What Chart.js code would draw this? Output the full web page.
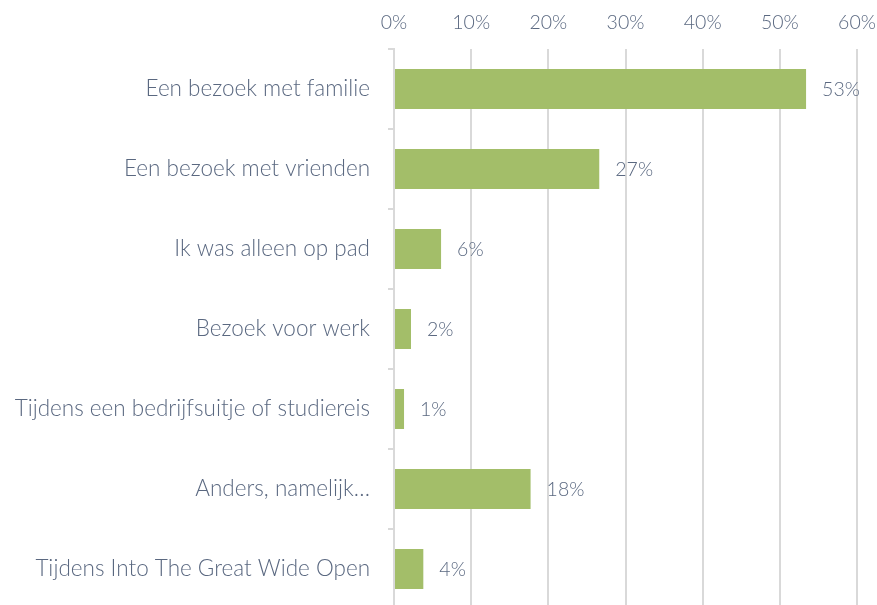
<!DOCTYPE html>
<html>
<head>
<meta charset="utf-8">
<script src="https://cdn.jsdelivr.net/npm/chart.js@4"></script>
<style>
  html, body { margin: 0; padding: 0; background: #fff; overflow: hidden; }
  #wrap { width: 877px; height: 609px; }
</style>
</head>
<body>
<div id="wrap"><canvas id="chart" width="877" height="609"></canvas></div>
<script>
const categories = [
  "Een bezoek met familie",
  "Een bezoek met vrienden",
  "Ik was alleen op pad",
  "Bezoek voor werk",
  "Tijdens een bedrijfsuitje of studiereis",
  "Anders, namelijk…",
  "Tijdens Into The Great Wide Open"
];
const shares = [53.4, 26.6, 6.1, 2.2, 1.3, 17.7, 3.8];
const shareLabels = ["53%", "27%", "6%", "2%", "1%", "18%", "4%"];

const textColor = "#5A6880";
const lineColor = "#D9D9D9";
const fontFamily = "Lato, 'Open Sans', sans-serif";

// draws the percentage next to each bar
const valueLabels = {
  id: "valueLabels",
  afterDatasetsDraw(chart) {
    const ctx = chart.ctx;
    const meta = chart.getDatasetMeta(0);
    ctx.save();
    ctx.font = "300 19.5px " + fontFamily;
    ctx.fillStyle = textColor;
    ctx.textBaseline = "middle";
    ctx.textAlign = "left";
    meta.data.forEach((bar, i) => {
      ctx.fillText(shareLabels[i], bar.x + 16, bar.y + 1);
    });
    ctx.restore();
  }
};

new Chart(document.getElementById("chart"), {
  type: "bar",
  data: {
    labels: categories,
    datasets: [{
      data: shares,
      backgroundColor: "#A3BE69",
      borderWidth: 0,
      barPercentage: 0.5,
      categoryPercentage: 1
    }]
  },
  options: {
    indexAxis: "y",
    responsive: false,
    animation: false,
    layout: { padding: { left: 0, right: 20, top: 0, bottom: 0 } },
    plugins: { legend: { display: false }, tooltip: { enabled: false } },
    scales: {
      x: {
        position: "top",
        min: 0,
        max: 60,
        ticks: {
          stepSize: 10,
          color: textColor,
          font: { family: fontFamily, size: 19.5, weight: 300 },
          padding: 15,
          callback: v => v + "%"
        },
        grid: { color: lineColor, lineWidth: 2, drawTicks: false },
        border: { display: false },
        afterFit(scale) {
          scale.height = 49;
          scale.paddingLeft = 0;
          scale.paddingRight = 0;
        }
      },
      y: {
        ticks: {
          color: textColor,
          font: { family: fontFamily, size: 22.5, weight: 300 },
          padding: 18
        },
        grid: { color: lineColor, lineWidth: 2, drawOnChartArea: false, tickLength: 6, offset: true },
        border: { color: lineColor, width: 2 },
        afterFit(scale) {
          scale.width = 394;
          scale.paddingTop = 0;
          scale.paddingBottom = 0;
        }
      }
    }
  },
  plugins: [valueLabels]
});
</script>
</body>
</html>
